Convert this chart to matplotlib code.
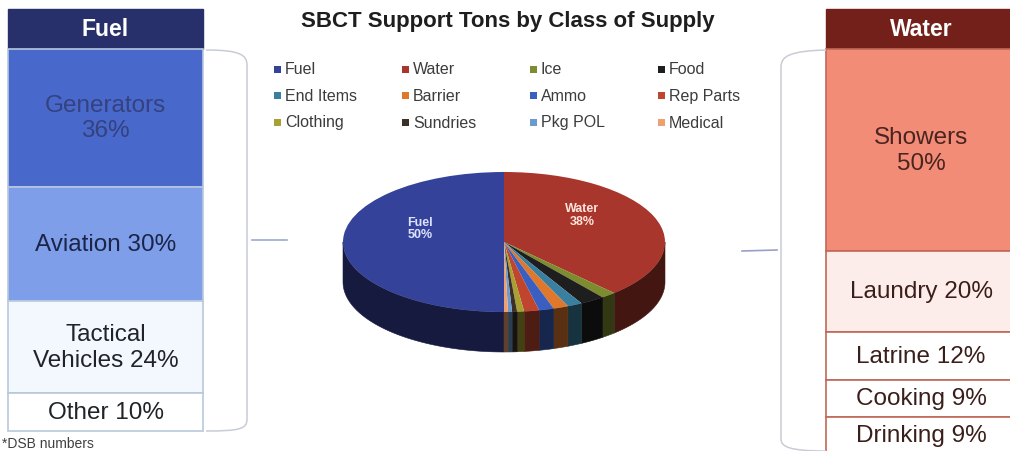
import numpy as np
import matplotlib
matplotlib.use("Agg")
import matplotlib.pyplot as plt
from matplotlib.patches import Rectangle, Polygon, PathPatch
from matplotlib.path import Path
import matplotlib.colors as mcolors

plt.rcParams['font.family'] = ['Liberation Sans', 'DejaVu Sans']

# ---- data ----
title = "SBCT Support Tons by Class of Supply"
supply_classes = ["Fuel", "Water", "Ice", "Food", "End Items", "Barrier",
                  "Ammo", "Rep Parts", "Clothing", "Sundries", "Pkg POL", "Medical"]
supply_pct = [50, 38, 1.5, 2.5, 1.5, 1.5, 1.5, 1.5, 0.7, 0.5, 0.4, 0.4]
supply_colors = ["#34429A", "#A8362C", "#7C8C2E", "#1E1E1E", "#3A7FA0", "#E0782C",
                 "#3A5FC0", "#C0452E", "#A8A030", "#3A3028", "#6A9AD0", "#F0A070"]
pie_labels = {0: "Fuel\n50%", 1: "Water\n38%"}

fuel_header = "Fuel"
fuel_use_labels = ["Generators\n{}%", "Aviation {}%", "Tactical\nVehicles {}%", "Other {}%"]
fuel_use_pct = [36, 30, 24, 10]
fuel_cell_colors = ["#4868CC", "#7E9EEA", "#F2F8FE", "#FFFFFF"]
fuel_text_colors = ["#34427E", "#1C2548", "#202428", "#202428"]

water_header = "Water"
water_use_labels = ["Showers\n{}%", "Laundry {}%", "Latrine {}%", "Cooking {}%", "Drinking {}%"]
water_use_pct = [50, 20, 12, 9, 9]
water_cell_colors = ["#F28C76", "#FCEDEA", "#FFFFFF", "#FFFFFF", "#FFFFFF"]
water_text_colors = ["#4A2420", "#3A1E1A", "#3A1E1A", "#3A1E1A", "#3A1E1A"]

footnote = "*DSB numbers"

# ---- figure ----
W, H = 1010, 452
fig = plt.figure(figsize=(W / 100, H / 100), dpi=100)
fig.patch.set_facecolor("white")
ax = fig.add_axes([0, 0, 1, 1])
ax.set_xlim(0, W)
ax.set_ylim(H, 0)
ax.axis("off")

# title
ax.text(508, 22, title, ha="center", va="center", fontsize=16,
        fontweight="bold", color="#1E1E1E")

# legend (row-major, four columns)
for i, (name, col) in enumerate(zip(supply_classes, supply_colors)):
    r, c = divmod(i, 4)
    x = 277 + c * 128
    y = 70 + r * 26.5
    ax.add_patch(Rectangle((x - 3.5, y - 3.5), 7, 7, color=col, lw=0))
    ax.text(x + 8, y, name, ha="left", va="center", fontsize=11.5, color="#3C3C3C")


def stacked_panel(x0, width, top, height, header, header_color, pct, labels,
                  fills, txt_colors, edge):
    # header cell
    ax.add_patch(Rectangle((x0, top - 40), width, 40, facecolor=header_color,
                           edgecolor=header_color, lw=1))
    ax.text(x0 + width / 2, top - 20, header, ha="center", va="center",
            fontsize=16.5, fontweight="bold", color="white")
    pct = np.asarray(pct, dtype=float)
    scale = height / pct.sum()
    heights = pct * scale
    bottoms = top + np.concatenate([[0], np.cumsum(heights)[:-1]])
    ax.bar(x0 + width / 2, heights, width=width, bottom=bottoms, color=fills,
           edgecolor=edge, linewidth=1.2)
    for b, h, lab, v, tc in zip(bottoms, heights, labels, pct, txt_colors):
        ax.text(x0 + width / 2, b + h / 2, lab.format(int(v)), ha="center",
                va="center", fontsize=17.5, color=tc, linespacing=1.2)


stacked_panel(8, 195, 50, 382, fuel_header, "#27306A", fuel_use_pct,
              fuel_use_labels, fuel_cell_colors, fuel_text_colors, "#B8C8DC")
stacked_panel(826, 190, 50, 404, water_header, "#74201A", water_use_pct,
              water_use_labels, water_cell_colors, water_text_colors, "#C06858")

# brackets linking the pie to the breakdown panels
br_col = "#C8CCD6"
lb = Path([(206, 51), (240, 51), (247, 56), (247, 66), (247, 420), (247, 430),
           (240, 432), (206, 432)],
          [Path.MOVETO, Path.CURVE4, Path.CURVE4, Path.CURVE4, Path.LINETO,
           Path.CURVE4, Path.CURVE4, Path.CURVE4])
ax.add_patch(PathPatch(lb, fill=False, edgecolor=br_col, lw=1.1))
ax.plot([252, 287], [241, 241], color="#9AAAD0", lw=1.2)
rb = Path([(826, 51), (790, 52), (781, 57), (781, 68), (781, 440), (781, 448),
           (790, 452), (826, 452)],
          [Path.MOVETO, Path.CURVE4, Path.CURVE4, Path.CURVE4, Path.LINETO,
           Path.CURVE4, Path.CURVE4, Path.CURVE4])
ax.add_patch(PathPatch(rb, fill=False, edgecolor=br_col, lw=1.1))
ax.plot([742, 777], [252, 251], color="#9AA0C8", lw=1.2)

# footnote
ax.text(2, 451, footnote, ha="left", va="bottom", fontsize=10, color="#404040")

# ---- tilted pie ----
cx, cy = 504, 243          # centre of top face (px)
rx, ry = 161, 70           # radii of top face (px)
depth_px = 40
px0, px1, py0, py1 = 330, 690, 160, 372
pax = fig.add_axes([px0 / W, (H - py1) / H, (px1 - px0) / W, (py1 - py0) / H])
pax.axis("off")

wedges, _ = pax.pie(supply_pct, colors=supply_colors, startangle=270,
                    counterclock=False, radius=1, center=(0, 0),
                    wedgeprops=dict(linewidth=0, zorder=3))
pax.set_aspect("auto")
pax.set_xlim(-(cx - px0) / rx, (px1 - cx) / rx)
pax.set_ylim(-(py1 - cy) / ry, (cy - py0) / ry)
depth = depth_px / ry

# side wall of the front half
for w, col in zip(wedges, supply_colors):
    t1, t2 = w.theta1, w.theta2
    for k in (-1, 0, 1):
        a = max(t1, 180 + 360 * k)
        b = min(t2, 360 + 360 * k)
        if b > a:
            t = np.radians(np.linspace(a, b, 60))
            top_pts = np.column_stack([np.cos(t), np.sin(t)])
            bot_pts = np.column_stack([np.cos(t[::-1]), np.sin(t[::-1]) - depth])
            rgb = np.array(mcolors.to_rgb(col)) * 0.4
            pax.add_patch(Polygon(np.vstack([top_pts, bot_pts]), closed=True,
                                  facecolor=rgb, edgecolor=rgb, lw=0.4, zorder=1))

# labels on the two large slices
lab_cols = {0: "#DCE2FF", 1: "#FFE4DC"}
for i, txt in pie_labels.items():
    w = wedges[i]
    mid = np.radians((w.theta1 + w.theta2) / 2)
    pax.text(0.52 * np.cos(mid), 0.52 * np.sin(mid) + 0.2, txt, ha="center",
             va="center", fontsize=9, fontweight="bold", color=lab_cols[i],
             zorder=5, linespacing=1.1)

fig.savefig("out.png", dpi=100, facecolor="white")
